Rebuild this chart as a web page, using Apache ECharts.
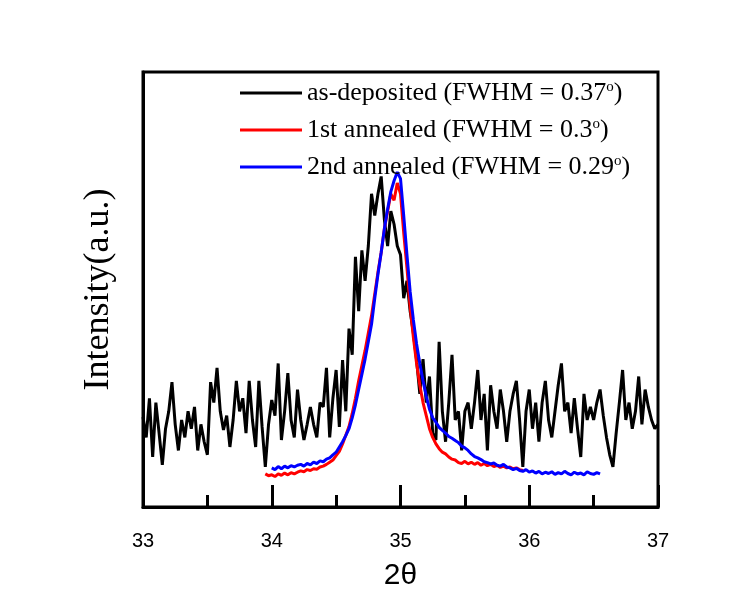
<!DOCTYPE html>
<html>
<head>
<meta charset="utf-8">
<script src="https://cdn.jsdelivr.net/npm/echarts@6/dist/echarts.min.js"></script>
<style>
  html, body { margin: 0; padding: 0; background: #fff; }
  #chart { width: 750px; height: 603px; }
</style>
</head>
<body>
<div id="chart"></div>
<script>
// 2theta sampling for each scan
const step = 0.025
const blackStart = 33.0
const redStart = 33.95
const blueStart = 34.0

const seriesNames = ['as-deposited', '1st annealed', '2nd annealed']
const fwhm = ['0.37', '0.3', '0.29']
const xTicks = [33, 34, 35, 36, 37]

const blackValues = [
  20.7, 16, 25, 11.5, 24, 17, 9.7, 18, 22, 28.7,
  19, 13, 20, 16, 22, 18, 23, 13, 19, 15,
  12, 28.7, 24, 32, 22, 17.7, 21, 13.8, 20, 29,
  22, 25, 17, 29, 20, 13.8, 29, 18.4, 9.2, 19,
  24.6, 21, 33, 15.4, 22, 30.8, 20, 16, 27, 20,
  15.4, 19, 23, 19, 16, 24, 23, 32, 16, 25,
  31.5, 18.4, 33.8, 22, 41, 35, 57.5, 45, 59, 52,
  60, 72, 67, 72, 76, 66, 60, 68, 65, 60,
  58, 48, 52, 45, 40, 33.8, 26, 34, 24, 30,
  17, 15.4, 38, 22, 15, 24, 35, 20, 22, 13,
  22, 24, 18, 24, 31.5, 20, 26, 13, 28, 22,
  18, 27, 22, 15, 22, 26, 29, 20, 9.2, 22,
  27, 18, 24, 15, 24, 29, 20, 16, 22, 28,
  33, 22, 24, 17, 25, 18, 11.5, 26, 20, 23,
  20, 24, 27, 21, 16, 12, 9.2, 17, 24, 31.5,
  20, 24, 18, 22, 30, 19, 27, 23, 20, 18,
  19
]

const redValues = [
  7.6, 7.2, 7.4, 7.0, 7.6, 7.3, 7.8, 7.4, 7.9, 7.6,
  8.0, 8.3, 8.1, 8.6, 8.4, 8.8, 8.7, 9.2, 9.4, 9.8,
  10.3, 10.8, 11.8, 12.8, 14.5, 16.5, 18.5, 21.5, 25, 29,
  32.5, 36, 40, 44, 49, 54, 58.5, 64, 68, 72,
  70.5, 74.5, 72, 63, 55, 46, 39, 33, 28, 24,
  21, 18, 16, 14.5, 13.4, 12.6, 12.2, 11.5, 11.0, 10.8,
  10.2, 10.0, 10.5, 9.9, 10.3, 9.8, 10.2, 9.6, 10.0, 9.5,
  9.8, 9.3, 9.6, 9.1, 9.4, 9.0, 9.2, 8.8, 9.0, 8.6,
  8.4
]

const blueValues = [
  9.0, 8.6, 9.3, 8.8, 9.4, 9.0, 9.5, 9.2, 9.6, 9.8,
  9.4, 10.0, 9.7, 10.3, 10.0, 10.6, 10.4, 11.0, 11.3, 12.0,
  12.6, 13.8, 15.0, 16.4, 18.0, 20.5, 23.5, 27, 30.5, 34,
  38, 42, 48, 53.5, 58.5, 64, 68.5, 72.5, 75, 77,
  75.5, 67, 58, 49.5, 43, 37.5, 33, 29, 25.5, 22.5,
  20.5, 19.5, 18.3, 17.6, 17.0, 16.2, 15.8, 15.3, 14.8, 14.0,
  13.6, 13.0, 12.2, 11.6, 11.3, 10.9, 10.4, 10.2, 9.9, 10.1,
  9.6, 9.4, 9.8, 9.2, 9.0, 8.6, 8.9, 8.4, 8.2, 8.6,
  8.0, 8.3, 7.8, 8.2, 7.6, 8.0, 7.7, 8.1, 7.5, 7.9,
  7.6, 8.2, 7.7, 7.4, 8.0, 7.6, 7.8, 7.4, 8.1, 7.7,
  7.5, 7.9, 7.6
]

const toPairs = (start, values) =>
  values.map((v, i) => [+(start + i * step).toFixed(3), v])

const chart = echarts.init(document.getElementById('chart'))

const lineSeries = (name, color, start, values) => ({
  name: name,
  type: 'line',
  data: toPairs(start, values),
  showSymbol: false,
  symbol: 'none',
  lineStyle: { color: color, width: 3 },
  itemStyle: { color: color },
  animation: false
})

const option = {
  backgroundColor: '#fff',
  animation: false,
  grid: {
    left: 143, top: 72, width: 515, height: 435,
    show: true, borderColor: '#000', borderWidth: 3, backgroundColor: 'transparent'
  },
  legend: {
    orient: 'vertical',
    left: 235,
    top: 75,
    itemWidth: 62,
    itemHeight: 3,
    itemGap: 11,
    icon: 'rect',
    data: seriesNames,
    formatter: name => {
      const i = seriesNames.indexOf(name)
      return '{t|' + name + ' (FWHM = ' + fwhm[i] + '}{sup|o}{t|)}'
    },
    textStyle: {
      fontFamily: 'Liberation Serif',
      fontSize: 26,
      color: '#000',
      rich: {
        t: { fontFamily: 'Liberation Serif', fontSize: 26, color: '#000', lineHeight: 26 },
        sup: { fontFamily: 'Liberation Serif', fontSize: 15, color: '#000', verticalAlign: 'top', lineHeight: 26, padding: [0, 0, 10, 0] }
      }
    }
  },
  xAxis: {
    type: 'value',
    min: 33,
    max: 37,
    interval: 1,
    name: '2θ',
    nameLocation: 'middle',
    nameGap: 54,
    nameTextStyle: { fontFamily: 'Liberation Sans', fontSize: 30, color: '#000' },
    axisLine: { show: true, lineStyle: { color: '#000', width: 3 } },
    axisTick: { show: true, inside: true, length: 22, lineStyle: { color: '#000', width: 3 } },
    minorTick: { show: true, splitNumber: 2, length: 12, lineStyle: { color: '#000', width: 3 } },
    axisLabel: {
      margin: 24,
      fontFamily: 'Liberation Sans',
      fontSize: 20,
      color: '#000',
      formatter: v => xTicks.includes(v) ? String(v) : ''
    },
    splitLine: { show: false }
  },
  yAxis: {
    type: 'value',
    min: 0,
    max: 100,
    name: 'Intensity(a.u.)',
    nameLocation: 'middle',
    nameRotate: 90,
    nameGap: 26,
    nameTextStyle: { fontFamily: 'Liberation Serif', fontSize: 36, color: '#000' },
    axisLine: { show: true, lineStyle: { color: '#000', width: 3 } },
    axisTick: { show: false },
    axisLabel: { show: false },
    splitLine: { show: false }
  },
  series: [
    lineSeries(seriesNames[0], '#000000', blackStart, blackValues),
    lineSeries(seriesNames[1], '#ff0000', redStart, redValues),
    lineSeries(seriesNames[2], '#0000ff', blueStart, blueValues)
  ]
}

chart.setOption(option)
</script>
</body>
</html>
